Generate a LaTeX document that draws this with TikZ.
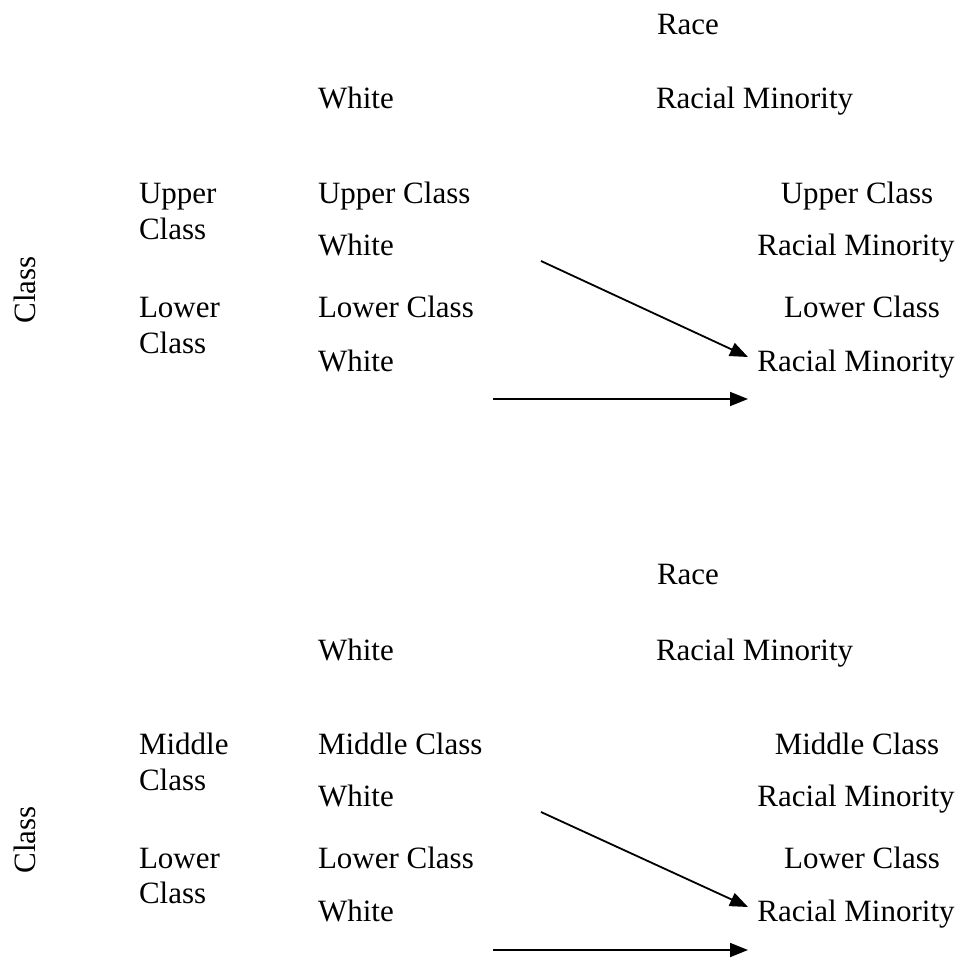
\documentclass[tikz,border=0pt]{standalone}
\usepackage{fontspec}
\setmainfont{Liberation Serif}
\usetikzlibrary{arrows.meta}
\tikzset{
  lbl/.style={inner sep=0pt, outer sep=0pt, anchor=base west, font=\fontsize{31}{36}\selectfont},
  lblc/.style={lbl, anchor=base},
  vlbl/.style={inner sep=0pt, font=\fontsize{31}{36}\selectfont, rotate=90, anchor=base},
  conn/.style={line width=1.8pt, -{Triangle[length=18pt,width=14pt]}}
}
\begin{document}
\begin{tikzpicture}[x=1pt,y=-1pt]
\useasboundingbox (0,0) rectangle (962,960);
% ---------- panel 1 ----------
\node[lbl] (race1) at (657,35) {Race};
\node[lbl] (hw1) at (318,109) {White};
\node[lbl] (hr1) at (656,109) {Racial Minority};
\node[vlbl] (cls1) at (35,290) {Class};
\node[lbl] (up1a) at (139,204) {Upper};
\node[lbl] (up1b) at (139,240) {Class};
\node[lbl] (lo1a) at (139,318) {Lower};
\node[lbl] (lo1b) at (139,353) {Class};
\node[lbl] (uw1a) at (318,204) {Upper Class};
\node[lbl] (uw1b) at (318,256) {White};
\node[lbl] (lw1a) at (318,318) {Lower Class};
\node[lbl] (lw1b) at (318,371) {White};
\node[lblc] (ur1a) at (857,204) {Upper Class};
\node[lblc] (ur1b) at (856,256) {Racial Minority};
\node[lblc] (lr1a) at (862,318) {Lower Class};
\node[lblc] (lr1b) at (856,371) {Racial Minority};
\coordinate (d1s) at (541,261);
\coordinate (d1e) at (748,357);
\coordinate (h1s) at (493,399);
\coordinate (h1e) at (748,399);
\draw[conn] (d1s) -- (d1e);
\draw[conn] (h1s) -- (h1e);
% ---------- panel 2 ----------
\node[lbl] (race2) at (657,584) {Race};
\node[lbl] (hw2) at (318,660) {White};
\node[lbl] (hr2) at (656,660) {Racial Minority};
\node[vlbl] (cls2) at (35,840) {Class};
\node[lbl] (mi2a) at (139,754) {Middle};
\node[lbl] (mi2b) at (139,790) {Class};
\node[lbl] (lo2a) at (139,868) {Lower};
\node[lbl] (lo2b) at (139,903) {Class};
\node[lbl] (mw2a) at (318,754) {Middle Class};
\node[lbl] (mw2b) at (318,806) {White};
\node[lbl] (lw2a) at (318,868) {Lower Class};
\node[lbl] (lw2b) at (318,921) {White};
\node[lblc] (mr2a) at (857,754) {Middle Class};
\node[lblc] (mr2b) at (856,806) {Racial Minority};
\node[lblc] (lr2a) at (862,868) {Lower Class};
\node[lblc] (lr2b) at (856,921) {Racial Minority};
\coordinate (d2s) at (541,812);
\coordinate (d2e) at (748,907);
\coordinate (h2s) at (493,950);
\coordinate (h2e) at (748,950);
\draw[conn] (d2s) -- (d2e);
\draw[conn] (h2s) -- (h2e);
\end{tikzpicture}
\end{document}
